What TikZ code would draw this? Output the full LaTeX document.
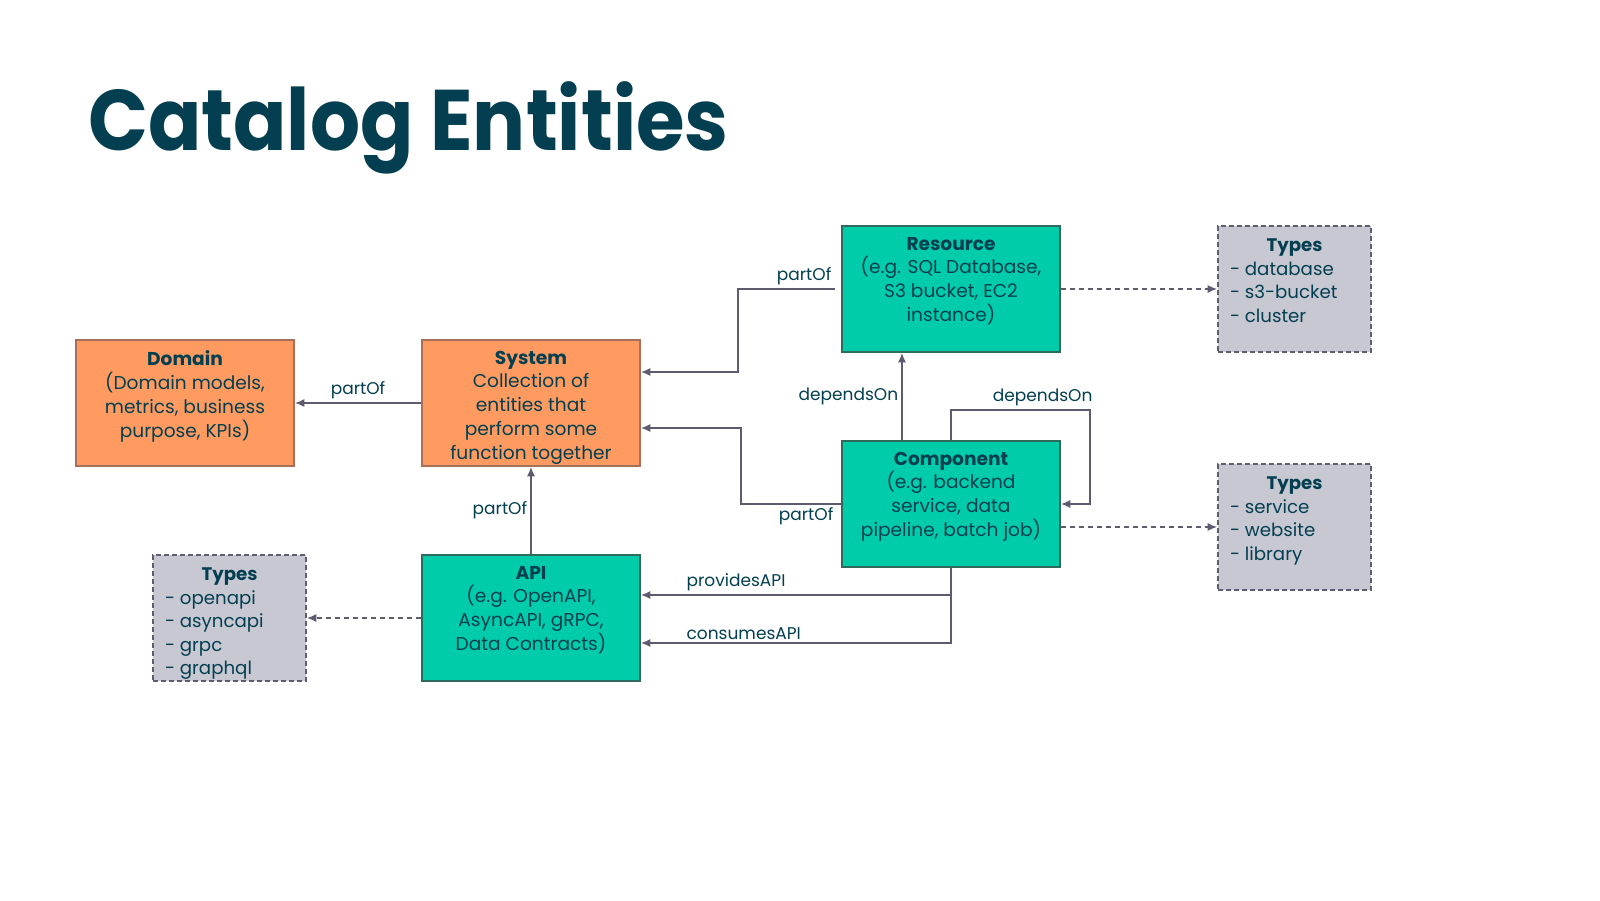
\documentclass[tikz,border=0pt]{standalone}
\usepackage{fontspec}
\usepackage{graphicx}
\setmainfont{Poppins}
\usetikzlibrary{arrows.meta}
\definecolor{ink}{HTML}{033F50}
\definecolor{orangefill}{HTML}{FF9B61}
\definecolor{orangeline}{HTML}{A8705A}
\definecolor{tealfill}{HTML}{00CCAA}
\definecolor{tealline}{HTML}{2E6B5C}
\definecolor{grayfill}{HTML}{C8C8D3}
\definecolor{grayline}{HTML}{5E5E70}
\definecolor{wire}{HTML}{5E5B70}
\newcommand{\entbody}[2]{\parbox[c][126pt][t]{218pt}{\vspace*{11pt}\centering\fontsize{18.6}{23.7}\selectfont\color{ink}\textbf{#1}\\#2\par\vfill}}
\newcommand{\typesbody}[2]{\parbox[c][126pt][t]{153pt}{\vspace*{13pt}\fontsize{18.2}{23.5}\selectfont\color{ink}\centerline{\textbf{Types}}\par\leftskip=12pt #2\par\vfill}}
\tikzset{
  entity/.style={draw=#1line, fill=#1fill, line width=1.6pt, inner sep=0pt, minimum width=218pt, minimum height=126pt},
  typesbox/.style={draw=grayline, fill=grayfill, line width=1.6pt, dash pattern=on 5pt off 3pt, inner sep=0pt, minimum width=153pt, minimum height=126pt},
  conn/.style={draw=wire, line width=1.7pt, -{Latex[length=9.5pt,width=8pt]}},
  dconn/.style={conn, dash pattern=on 5pt off 4pt},
  lbl/.style={font=\fontsize{17}{19}\selectfont, text=ink, inner sep=3pt}
}
\begin{document}
\begin{tikzpicture}[x=1pt,y=-1pt]
\useasboundingbox (0,0) rectangle (1600,900);
\fill[white] (0,0) rectangle (1600,900);
\node[anchor=base west, inner sep=0pt, text=ink, font=\fontsize{86}{90}\selectfont\bfseries] (title) at (88,150) {\scalebox{0.915}[1]{Catalog Entities}};

\node[entity=orange] (domain) at (185,403) {\entbody{Domain}{(Domain models,\\metrics, business\\purpose, KPIs)}};
\node[entity=orange] (system) at (531,403) {\entbody{System}{Collection of\\entities that\\perform some\\function together}};
\node[entity=teal] (resource) at (951,289) {\entbody{Resource}{(e.g. SQL Database,\\S3 bucket, EC2\\instance)}};
\node[entity=teal] (component) at (951,504) {\entbody{Component}{(e.g. backend\\service, data\\pipeline, batch job)}};
\node[entity=teal] (api) at (531,618) {\entbody{API}{(e.g. OpenAPI,\\AsyncAPI, gRPC,\\Data Contracts)}};

\node[typesbox] (typesR) at (1294.5,289) {\typesbody{Types}{- database\\- s3-bucket\\- cluster}};
\node[typesbox] (typesC) at (1294.5,527) {\typesbody{Types}{- service\\- website\\- library}};
\node[typesbox] (typesA) at (229.5,618) {\typesbody{Types}{- openapi\\- asyncapi\\- grpc\\- graphql}};

\draw[conn] (system.west) -- (domain.east) node[midway, above, lbl] {partOf};
\draw[conn] ([xshift=-6pt]resource.west) node[above left, lbl] {partOf} -- (738,289) |- ([yshift=31pt]system.east);
\draw[conn] (component.west) node[below left, lbl, xshift=-4pt] {partOf} -- (741,504) |- ([yshift=-25pt]system.east);
\draw[conn] ([xshift=-49pt]component.north) -- ([xshift=-49pt]resource.south) node[midway, left, lbl] {dependsOn};
\draw[conn] (component.north) -- ++(0,-30) -| node[pos=0.33, above, lbl] {dependsOn} ([xshift=29pt]component.east) -- (component.east);
\draw[dconn] (resource.east) -- (typesR.west);
\draw[dconn] (component.east |- typesC.west) -- (typesC.west);
\draw[dconn] (api.west) -- (typesA.east);
\draw[conn] (api.north) -- (system.south) node[midway, left, lbl] {partOf};
\draw[conn] (component.south) |- ([yshift=23pt]api.east) node[pos=1, above right, lbl, xshift=42pt] {providesAPI};
\draw[conn] (component.south) |- ([yshift=-25pt]api.east) node[pos=1, above right, lbl, xshift=42pt] {consumesAPI};
\end{tikzpicture}
\end{document}
